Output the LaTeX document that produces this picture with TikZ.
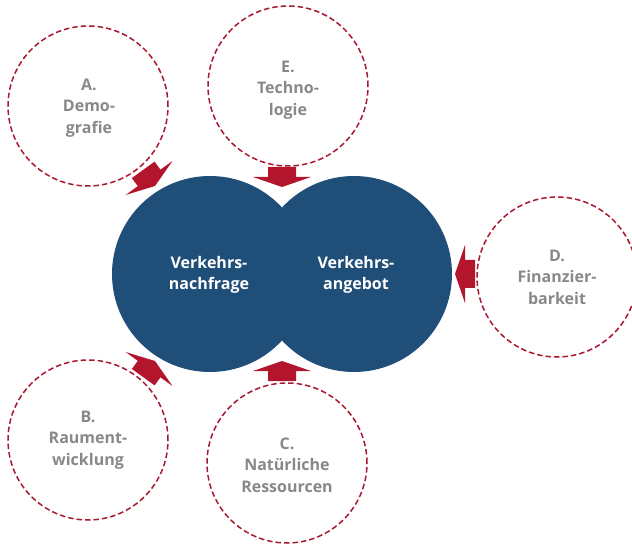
\documentclass[tikz,border=0pt]{standalone}
\usepackage{fontspec}
\setmainfont{Open Sans}
\definecolor{bigblue}{HTML}{1F4E79}
\definecolor{arrowred}{HTML}{B3152C}
\definecolor{dashred}{HTML}{A8192F}
\definecolor{txtgray}{HTML}{888888}
\tikzset{
  bigcirc/.style={circle, fill=bigblue, minimum size=196pt, inner sep=0pt},
  bigtext/.style={align=center, text=white, font=\fontsize{16}{20.5}\selectfont\bfseries},
  factor/.style={circle, draw=dashred, line width=1.5pt, dash pattern=on 5.5pt off 3pt,
     minimum size=160pt, inner sep=0pt},
  factortext/.style={align=center, text=txtgray, font=\fontsize{16}{21.5}\selectfont\bfseries},
  blockarrow/.pic={
    \fill[arrowred] (0,0) -- (-10,29) -- (-10,14) -- (-20,14) -- (-20,-14) -- (-10,-14) -- (-10,-29) -- cycle;
  }
}
\begin{document}
\begin{tikzpicture}[x=1pt,y=-1pt]
\useasboundingbox (0,0) rectangle (632,545);
% big circles
\node[bigcirc] (nach) at (210,274) {};
\node[bigcirc] (ange) at (354,274) {};
\node[bigtext] (nachtext) at (209,275) {Verkehrs-\\nachfrage};
\node[bigtext] (angetext) at (356,275) {Verkehrs-\\angebot};
% factor circles
\node[factor] (A) at (88,106) {};
\node[factor] (E) at (288,86) {};
\node[factor] (D) at (557,277) {};
\node[factor] (B) at (88,440) {};
\node[factor] (C) at (287,463) {};
\node[factortext] (Atext) at (89,108) {A.\\Demo-\\grafie};
\node[factortext] (Etext) at (288,90) {E.\\Techno-\\logie};
\node[factortext] (Dtext) at (557,277) {D.\\Finanzier-\\barkeit};
\node[factortext] (Btext) at (88,440) {B.\\Raument-\\wicklung};
\node[factortext] (Ctext) at (287,465) {C.\\Natürliche\\Ressourcen};
% block arrows
\pic[rotate=-54] (arrA) at (155,186) {blockarrow};
\pic[rotate=54] (arrB) at (155,361) {blockarrow};
\pic[rotate=-90] (arrE) at (282,187) {blockarrow};
\pic[rotate=90] (arrC) at (282,361) {blockarrow};
\pic[rotate=180] (arrD) at (455,274) {blockarrow};
\end{tikzpicture}
\end{document}
